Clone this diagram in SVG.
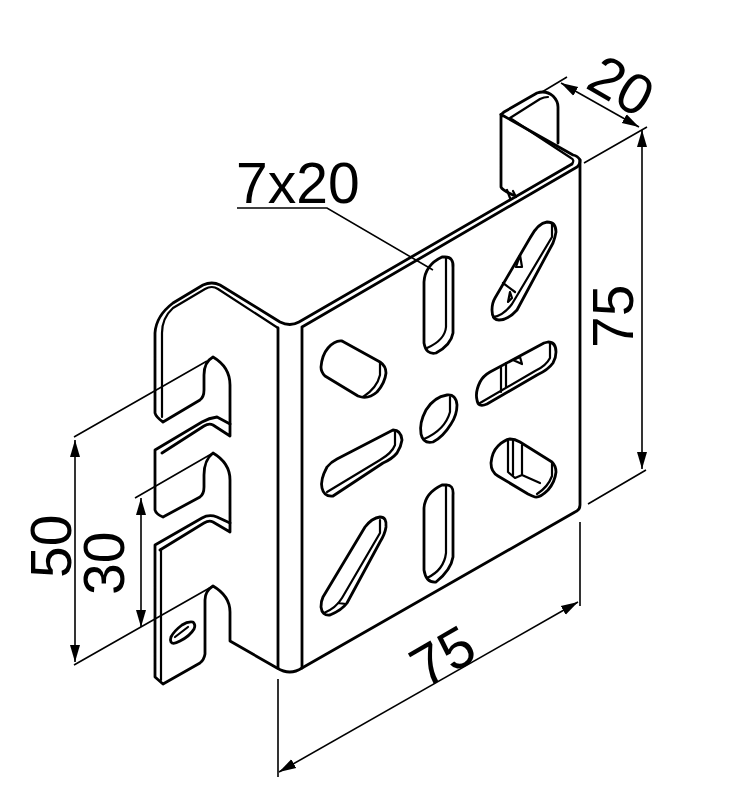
<svg xmlns="http://www.w3.org/2000/svg" width="746" height="809" viewBox="0 0 746 809">
<style>
.o{fill:none;stroke:#000;stroke-width:2.8;stroke-linejoin:round;stroke-linecap:round}
.i{fill:none;stroke:#000;stroke-width:2.2;stroke-linejoin:round;stroke-linecap:round}
.d{fill:none;stroke:#000;stroke-width:1.6}
.a{fill:none;stroke:#000;stroke-width:1.6;marker-start:url(#ah);marker-end:url(#ah)}
text{font-family:"Liberation Sans",Arial,sans-serif;font-size:57px;fill:#000}
</style>
<defs>
<marker id="ah" markerUnits="userSpaceOnUse" markerWidth="18" markerHeight="12" refX="17" refY="6" orient="auto-start-reverse"><path d="M0 1L17 6L0 11Z" fill="#000"/></marker>
</defs>
<rect width="746" height="809" fill="#fff"/>
<g id="bracket">
<path class="o" d="M155 333Q156 316 173 303L203 285Q212 281 220 285L280 322Q290 327 299 322L572 164M155 333V413Q156 417 163 422L200 400Q204 397 204 390V375Q204 362 213 357Q230 367 230 385V436L213 425Q209 423 204 426L162 453"/>
<path class="i" d="M162 333Q162 318 173 308L205 289Q212 285 218 289L278 328M162 333V417"/>
<path class="o" d="M230 424L217 417Q209 418 202 422L155 450V510Q156 514 163 517L200 497Q204 494 204 487V475Q204 460 213 453Q230 463 230 480V532L213 522Q209 520 204 523L160 550"/>
<path class="o" d="M230 523L217 517Q209 514 202 518L155 545V677L163 684L200 663Q204 660 205 654V600Q205 591 213 586Q230 596 230 612V641L277 668Q290 676 302 668L575 512Q580 510 580 505V160"/>
<path class="i" d="M161 549V680"/>
<path class="o" d="M278 328V668M302 327V668M302 327L577 167Q580 165 580 160Q578 156 573 155L502 115Q500 114 501 115V187Q502 190 513 195M502 116Q501 114 504 112L537 93Q546 90 553 96Q558 101 558 107V143"/>
<path class="i" d="M572 164Q575 160 571 158L510 118L540 99Q544 97 548 97M507 190L510 198M513 191L516 197"/>
<path class="o" d="M171 637Q174 631 182 625Q188 621 193 622Q196 625 194 629Q190 636 180 641Q173 645 171 642Q170 640 171 637Z"/>
<path class="i" d="M175 637L188 627"/>
</g>
<g id="slots">
<path class="o" d="M445 257Q454 257 453 268V333Q451 345 436 353Q426 355 424 343V282Q425 265 442 257Z"/>
<path class="i" d="M446 258V327Q445 340 427 348"/>
<path class="o" d="M547 222Q556 222 556 232Q555 238 553 243L517 310Q508 320 499 320Q492 320 492 310Q492 303 495 298L530 238Q538 223 547 222Z"/>
<path class="i" d="M552 224V237L512 304Q503 316 493 317M503 283L515 292M520 255L516 267L522 267ZM510 292L508 302L512 298Z"/>
<path class="o" d="M548 342Q556 342 556 352Q556 358 553 363Q548 370 537 375L487 404Q478 408 477 400Q475 392 480 382Q483 376 490 372L544 343Z"/>
<path class="i" d="M550 343V358Q546 366 535 371L480 403M501 367V392M506 363V388M520 357L513 360L522 364Z"/>
<path class="o" d="M510 439Q515 439 520 442L552 462Q556 466 556 472Q555 482 548 490Q540 498 535 497Q532 496 528 494L498 476Q491 472 491 463Q492 452 498 446Q504 440 510 439Z"/>
<path class="i" d="M552 462V476Q548 487 537 494M522 475L540 483M508 441V472M513 440V475M522 445V475L515 478L508 472"/>
<path class="o" d="M445 485Q454 484 453 495V557Q451 570 436 582Q426 583 424 570V508Q425 493 442 485Z"/>
<path class="i" d="M446 486V553Q444 570 427 578"/>
<path class="o" d="M342 341L380 362Q386 366 386 373Q385 383 377 392Q368 400 358 396L325 376Q321 372 321 367Q322 355 328 348Q335 340 342 341Z"/>
<path class="i" d="M380 362V375Q377 388 363 397"/>
<path class="o" d="M447 395Q456 394 457 405Q457 415 451 424Q443 437 433 442Q423 444 421 434Q419 423 426 410Q434 397 447 395Z"/>
<path class="i" d="M450 397V412Q445 430 424 439"/>
<path class="o" d="M393 430Q401 430 402 440Q401 447 397 453Q392 459 383 463L333 496Q324 497 322 488Q320 480 327 467Q331 462 337 459Z"/>
<path class="i" d="M395 432V445Q392 453 380 460L327 492"/>
<path class="o" d="M380 517Q387 517 386 527Q385 534 380 542L347 603Q342 610 330 615Q322 616 321 607Q321 601 323 597L365 527Q372 518 380 517Z"/>
<path class="i" d="M380 520V533L342 598Q336 608 324 613M338 603L346 604"/>
</g>
<g id="dimensions">
<path class="d" d="M207 361L74 437M213 586L74 665M213 453L135 498"/>
<path class="a" d="M75 440V662"/>
<path class="a" d="M141 498V627"/>
<path class="d" d="M542 92L567 77M584 163L647 127M588 504L646 470M237 208H327L433 270"/>
<path class="a" d="M561 83L639 127"/>
<path class="a" d="M642 130V469"/>
<path class="d" d="M278 679V777M580 522V606"/>
<path class="a" d="M279 772L578 602"/>
</g>
<g id="labels">
<text x="236" y="203">7x20</text>
<text transform="translate(633,348) rotate(-90)">75</text>
<text transform="translate(71,578) rotate(-90)">50</text>
<text transform="translate(124,595) rotate(-90)">30</text>
<text transform="translate(425,689) rotate(-30)">75</text>
<text transform="translate(584,87) rotate(30)">20</text>
</g>
</svg>
